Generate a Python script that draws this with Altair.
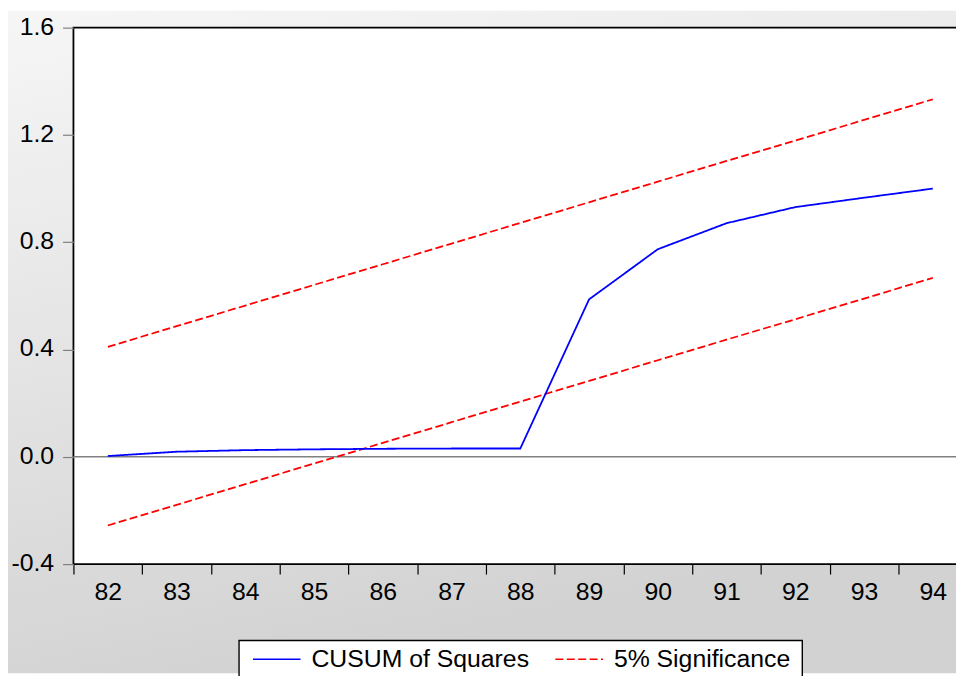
import altair as alt
import pandas as pd

# ---- data ----
years = [82, 83, 84, 85, 86, 87, 88, 89, 90, 91, 92, 93, 94]
cusum_sq = [0.003, 0.019, 0.025, 0.028, 0.030, 0.031, 0.031, 0.587, 0.774, 0.871, 0.931, 0.966, 1.000]
upper_5pct = [0.410, 0.487, 0.564, 0.641, 0.718, 0.795, 0.872, 0.949, 1.026, 1.103, 1.179, 1.256, 1.333]
lower_5pct = [-0.256, -0.179, -0.102, -0.025, 0.052, 0.129, 0.206, 0.283, 0.360, 0.437, 0.513, 0.590, 0.667]
x_tick_values = [81.5, 82.5, 83.5, 84.5, 85.5, 86.5, 87.5, 88.5, 89.5, 90.5, 91.5, 92.5, 93.5]
y_tick_values = [-0.4, 0.0, 0.4, 0.8, 1.2, 1.6]
series_names = ["CUSUM of Squares", "5% Significance"]

# ---- layout ----
W, H = 890, 541
PX_PER_YEAR = 69.33
PAD_L, PAD_T, PAD_R, PAD_B = 66, 17, 0, 110
FONT = "Liberation Sans"
FS = 25

rows = []
for y, v in zip(years, cusum_sq):
    rows.append({"year": y, "value": v, "series": series_names[0], "part": "cusum"})
for y, v in zip(years, upper_5pct):
    rows.append({"year": y, "value": v, "series": series_names[1], "part": "upper"})
for y, v in zip(years, lower_5pct):
    rows.append({"year": y, "value": v, "series": series_names[1], "part": "lower"})
df = pd.DataFrame(rows)

x_enc = alt.X(
    "year:Q",
    scale=alt.Scale(domain=[81.5, 81.5 + W / PX_PER_YEAR], nice=False, zero=False),
    axis=alt.Axis(
        values=x_tick_values,
        labelExpr="format(datum.value + 0.5, 'd')",
        labelOffset=PX_PER_YEAR / 2,
        tickSize=10, tickColor="#000000", tickWidth=1.2,
        domain=False, grid=False,
        labelFont=FONT, labelFontSize=FS, labelColor="#000000",
        labelPadding=6, labelFlush=False, labelOverlap=False,
        title=None, zindex=1,
    ),
)
y_enc = alt.Y(
    "value:Q",
    scale=alt.Scale(domain=[-0.4, 1.6], nice=False, zero=False),
    axis=alt.Axis(
        values=y_tick_values,
        labelExpr="datum.value < 0 ? '-' + format(-datum.value, '.1f') : format(datum.value, '.1f')",
        tickSize=11, tickColor="#808080", tickWidth=1.2,
        domain=False, grid=False,
        labelFont=FONT, labelFontSize=FS, labelColor="#000000",
        labelPadding=9, labelOffset=-1.5, labelOverlap=False, labelFlush=False,
        title=None, zindex=1,
    ),
)

legend = alt.Legend(
    title=None, orient="none", legendX=180, legendY=612,
    direction="horizontal", symbolType="stroke", symbolSize=2304,
    symbolStrokeWidth=1.6, labelFont=FONT, labelFontSize=FS, labelColor="#000000",
    labelOffset=10, labelLimit=600, columnPadding=22, padding=0,
)
color_enc = alt.Color("series:N", scale=alt.Scale(domain=series_names, range=["#0000ff", "#ff0000"]), legend=legend)
dash_enc = alt.StrokeDash("series:N", scale=alt.Scale(domain=series_names, range=[[1, 0], [8, 3.5]]), legend=legend)

one = alt.Data(values=[{"k": 1}])

background = alt.Chart(one).mark_rect(
    fill={"gradient": "linear", "x1": 0, "y1": 0, "x2": 0.3, "y2": 1,
          "stops": [{"offset": 0, "color": "#f6f6f6"}, {"offset": 1, "color": "#d2d2d2"}]},
    strokeWidth=0,
).encode(x=alt.value(-PAD_L), x2=alt.value(W + PAD_R), y=alt.value(-PAD_T), y2=alt.value(H + PAD_B))

plot_bg = alt.Chart(one).mark_rect(fill="#ffffff", stroke="#000000", strokeWidth=1.8).encode(
    x=alt.value(0), x2=alt.value(W + 20), y=alt.value(0), y2=alt.value(H)
)

legend_box = alt.Chart(one).mark_rect(fill="#ffffff", stroke="#000000", strokeWidth=1.4).encode(
    x=alt.value(167), x2=alt.value(735), y=alt.value(618), y2=alt.value(668)
)

zero_rule = alt.Chart(one).mark_rule(color="#808080", strokeWidth=1.5).encode(y=alt.datum(0))

bands = alt.Chart(df).transform_filter("datum.part != 'cusum'").mark_line(strokeWidth=1.8).encode(
    x=x_enc, y=y_enc, color=color_enc, strokeDash=dash_enc, detail="part:N"
)
cusum = alt.Chart(df).transform_filter("datum.part == 'cusum'").mark_line(strokeWidth=1.8).encode(
    x=x_enc, y=y_enc, color=color_enc, strokeDash=dash_enc, detail="part:N"
)

chart = alt.layer(background, plot_bg, legend_box, zero_rule, bands, cusum).properties(
    width=W, height=H,
    padding={"left": PAD_L, "top": PAD_T, "right": PAD_R, "bottom": PAD_B},
    autosize=alt.AutoSizeParams(type="none"),
).configure_view(stroke=None).configure(background="#ffffff")

chart.save("out.html", embed_options={"renderer": "svg", "actions": False})
